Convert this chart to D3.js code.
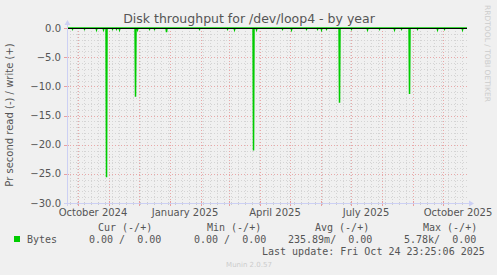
<!DOCTYPE html>
<html><head><meta charset="utf-8">
<script src="https://cdn.jsdelivr.net/npm/d3@7"></script>
<style>
html,body{margin:0;padding:0;background:#f0f0f0;}
svg{display:block;}
</style></head>
<body>
<script>
// ---- data ----
const endTime = "2025-10-24T23:25:06";
const rangeDays = 400;
const spikeDates = ["2024-10-29","2024-11-27","2024-12-28","2025-03-25","2025-06-19","2025-08-28"];
const spikeValues = [-25.6,-11.8,-0.7,-21.0,-12.8,-11.3];
const smallDates = ["2024-09-25","2024-10-07","2024-10-19","2024-10-26","2024-11-04","2024-11-08","2024-11-11","2024-11-29","2024-12-11","2024-12-16","2025-01-30","2025-02-27","2025-03-06","2025-03-28","2025-04-23","2025-05-02","2025-05-17","2025-05-28","2025-06-01","2025-06-06","2025-07-01","2025-07-17","2025-07-29","2025-08-13","2025-08-20","2025-09-05","2025-09-25","2025-10-02","2025-10-20"];
const smallValues = [-0.2,-0.2,-0.3,-0.3,-0.2,-0.2,-0.3,-0.3,-0.2,-0.2,-0.2,-0.2,-0.3,-0.3,-0.2,-0.3,-0.2,-0.2,-0.3,-0.2,-0.2,-0.3,-0.2,-0.3,-0.2,-0.2,-0.3,-0.2,-0.3];
const yTicks = [0,-5,-10,-15,-20,-25,-30];
const xLabels = ["October 2024","January 2025","April 2025","July 2025","October 2025"];
const xLabelMonths = ["2024-10-01","2025-01-01","2025-04-01","2025-07-01","2025-10-01"];
const legendHeaders = ["Cur (-/+)","Min (-/+)","Avg (-/+)","Max (-/+)"];
const legendValues = ["0.00 /  0.00","0.00 /  0.00","235.89m/  0.00","5.78k/  0.00"];
const seriesName = "Bytes";

// ---- layout ----
const W=497,H=275;
const L=67,R=467,T=28,B=203;
const svg=d3.select("body").append("svg").attr("width",W).attr("height",H);
svg.append("rect").attr("width",W).attr("height",H).attr("fill","#f0f0f0");

const parse=d3.isoParse;
const end=parse(endTime);
const start=new Date(end.getTime()-rangeDays*864e5);
const x=d3.scaleTime().domain([start,end]).range([L,R]);
const y=d3.scaleLinear().domain([-30,0]).range([B,T]);

const g=svg.append("g");
const minorY=d3.range(-30,1,1).filter(v=>v%5!==0);
g.selectAll(".hmin").data(minorY).enter().append("line")
 .attr("x1",L).attr("x2",R).attr("y1",d=>Math.round(y(d))+0.5).attr("y2",d=>Math.round(y(d))+0.5)
 .attr("stroke","#d4d4d4").attr("stroke-dasharray","1,2");
const weeks=d3.timeMonday.range(start,end);
g.selectAll(".vmin").data(weeks).enter().append("line")
 .attr("y1",T).attr("y2",B).attr("x1",d=>Math.round(x(d))+0.5).attr("x2",d=>Math.round(x(d))+0.5)
 .attr("stroke","#d4d4d4").attr("stroke-dasharray","1,2");
const months=d3.timeMonth.range(start,end);
g.selectAll(".vmaj").data(months).enter().append("line")
 .attr("y1",T).attr("y2",B).attr("x1",d=>Math.round(x(d))+0.5).attr("x2",d=>Math.round(x(d))+0.5)
 .attr("stroke","#e8a8a8").attr("stroke-dasharray","1,2");
g.selectAll(".hmaj").data(yTicks).enter().append("line")
 .attr("x1",L).attr("x2",R).attr("y1",d=>Math.round(y(d))+0.5).attr("y2",d=>Math.round(y(d))+0.5)
 .attr("stroke","#e8a8a8").attr("stroke-dasharray","1,2");

g.selectAll(".tmin").data(weeks).enter().append("line")
 .attr("y1",B-1).attr("y2",B+2).attr("x1",d=>Math.round(x(d))+0.5).attr("x2",d=>Math.round(x(d))+0.5)
 .attr("stroke","#cccccc");
g.selectAll(".tmaj").data(months).enter().append("line")
 .attr("y1",B-2).attr("y2",B+3).attr("x1",d=>Math.round(x(d))+0.5).attr("x2",d=>Math.round(x(d))+0.5)
 .attr("stroke","#e8a0a0");
g.selectAll(".ytmaj").data(yTicks).enter().append("line")
 .attr("x1",L-3).attr("x2",L+2).attr("y1",d=>Math.round(y(d))+0.5).attr("y2",d=>Math.round(y(d))+0.5)
 .attr("stroke","#e8a0a0");

// series: zero baseline with read spikes
const pts=[];
spikeDates.forEach((d,i)=>pts.push({t:parse(d+"T12:00:00"),v:spikeValues[i]}));
smallDates.forEach((d,i)=>pts.push({t:parse(d+"T12:00:00"),v:smallValues[i]}));
pts.sort((a,b)=>a.t-b.t);
const lineData=[{t:start,v:0}];
pts.forEach(p=>{
  const t0=new Date(p.t.getTime()-864e5*0.5), t1=new Date(p.t.getTime()+864e5*0.5);
  lineData.push({t:t0,v:0},{t:p.t,v:p.v},{t:t1,v:0});
});
lineData.push({t:end,v:0});
const line=d3.line().x(d=>x(d.t)).y(d=>y(d.v));
svg.append("path").datum(lineData).attr("d",line).attr("fill","none")
 .attr("stroke","#00cc00").attr("stroke-width",1.5).attr("stroke-linejoin","miter");

svg.append("line").attr("x1",L).attr("x2",R).attr("y1",y(0)+0.5).attr("y2",y(0)+0.5)
 .attr("stroke","#000").attr("stroke-width",1);

const axC="#ccd0f4";
svg.append("line").attr("x1",L+0.5).attr("x2",L+0.5).attr("y1",B+3).attr("y2",T-4).attr("stroke",axC);
svg.append("path").attr("d",`M${L-2.5},${T-3} L${L+3.5},${T-3} L${L+0.5},${T-8} Z`).attr("fill",axC);
svg.append("line").attr("x1",L-3).attr("x2",R+3).attr("y1",B+0.5).attr("y2",B+0.5).attr("stroke",axC);
svg.append("path").attr("d",`M${R+2},${B-2.5} L${R+2},${B+3.5} L${R+7},${B+0.5} Z`).attr("fill",axC);

const txt="#555";
svg.selectAll(".yl").data(yTicks).enter().append("text")
 .attr("x",61).attr("y",d=>y(d)+3.5).attr("text-anchor","end")
 .attr("font-family","DejaVu Sans").attr("font-size",10).attr("fill",txt)
 .text(d=>d3.format(".1f")(d));
svg.selectAll(".xl").data(xLabelMonths).enter().append("text")
 .attr("x",d=>x(d3.timeDay.offset(parse(d),15))).attr("y",216).attr("text-anchor","middle")
 .attr("font-family","DejaVu Sans").attr("font-size",10).attr("fill",txt)
 .text((d,i)=>xLabels[i]);
svg.append("text").attr("x",249).attr("y",23).attr("text-anchor","middle")
 .attr("font-family","DejaVu Sans").attr("font-size",12.5).attr("fill",txt)
 .text("Disk throughput for /dev/loop4 - by year");
svg.append("text").attr("transform","translate(13,115) rotate(-90)").attr("text-anchor","middle")
 .attr("font-family","DejaVu Sans").attr("font-size",10).attr("fill",txt)
 .text("Pr second read (-) / write (+)");
svg.append("text").attr("transform","translate(485,5) rotate(90)").attr("text-anchor","start")
 .attr("font-family","DejaVu Sans").attr("font-size",7.5).attr("fill","#cccccc")
 .attr("textLength",97).attr("lengthAdjust","spacingAndGlyphs")
 .text("RRDTOOL / TOBI OETIKER");

const mono="DejaVu Sans Mono";
const hdrX=[98,207,315,423];
svg.selectAll(".lh").data(legendHeaders).enter().append("text")
 .attr("x",(d,i)=>hdrX[i]).attr("y",231).attr("font-family",mono).attr("font-size",10).attr("fill",txt)
 .style("white-space","pre").text(d=>d);
svg.append("rect").attr("x",14).attr("y",236).attr("width",6).attr("height",6).attr("fill","#00cc00");
svg.append("text").attr("x",27).attr("y",243).attr("font-family",mono).attr("font-size",10).attr("fill",txt).text(seriesName);
const valX=[89,194,288,404];
svg.selectAll(".lv").data(legendValues).enter().append("text")
 .attr("x",(d,i)=>valX[i]).attr("y",243).attr("font-family",mono).attr("font-size",10).attr("fill",txt)
 .style("white-space","pre").text(d=>d);
svg.append("text").attr("x",262).attr("y",255).attr("font-family",mono).attr("font-size",10).attr("fill",txt)
 .style("white-space","pre").text("Last update: Fri Oct 24 23:25:06 2025");
svg.append("text").attr("x",249).attr("y",267).attr("text-anchor","middle")
 .attr("font-family","DejaVu Sans").attr("font-size",7).attr("fill","#cccccc").text("Munin 2.0.57");
</script>
</body></html>
